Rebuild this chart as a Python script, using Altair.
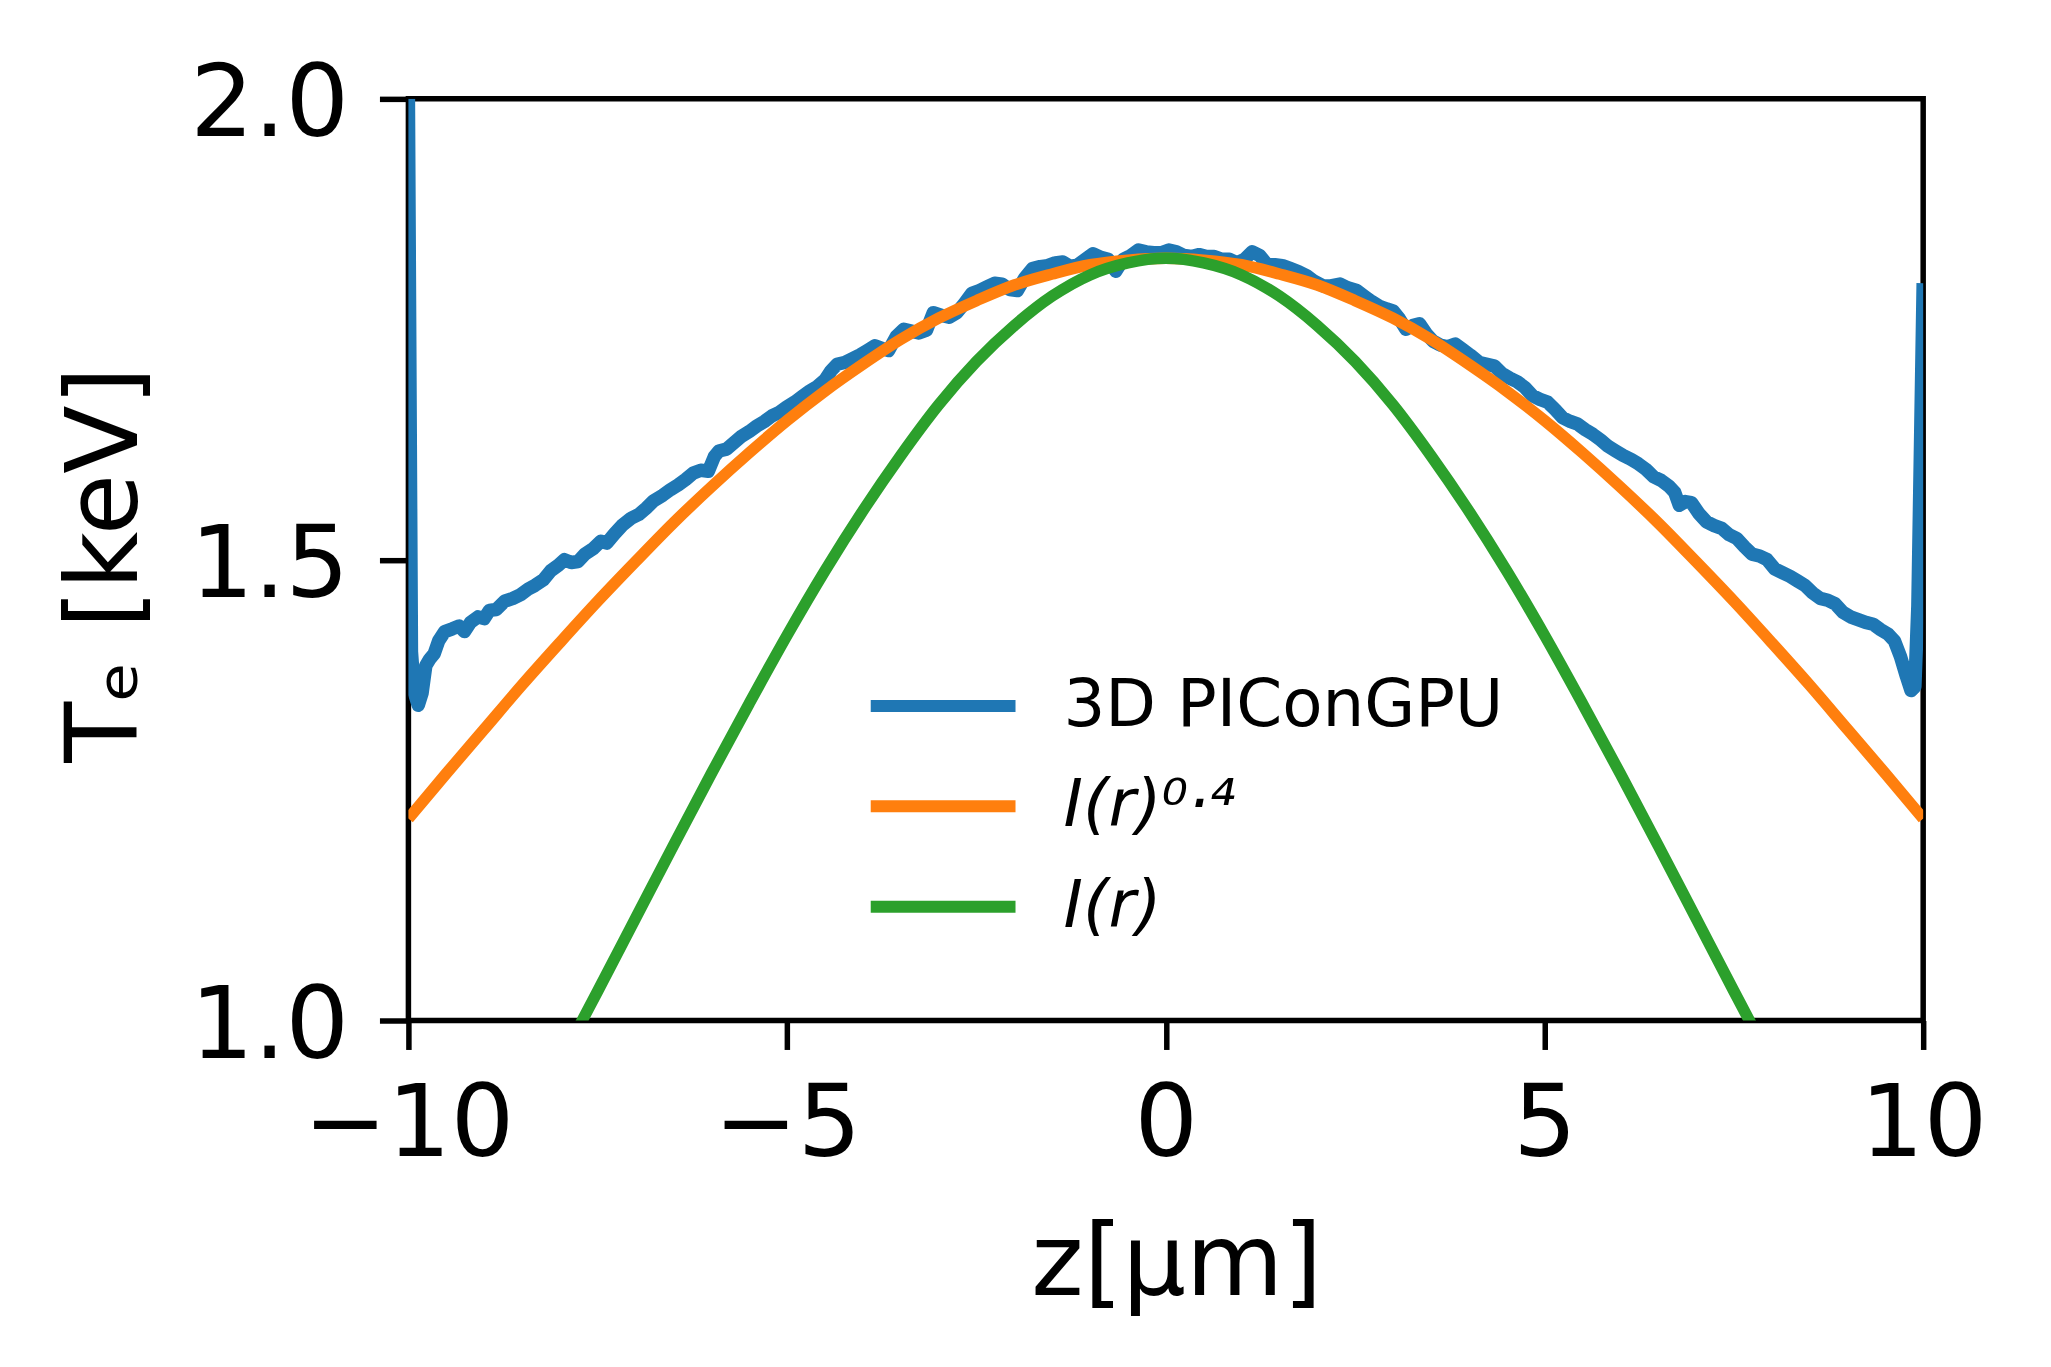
import altair as alt
import pandas as pd

# ---- data ----
Z_PIC = [-10.00, -9.96, -9.92, -9.87, -9.82, -9.77, -9.72, -9.66, -9.60, -9.52,
         -9.42, -9.33, -9.26, -9.18, -9.08, -9.00, -8.93, -8.84, -8.73, -8.62,
         -8.52, -8.42, -8.33, -8.22, -8.12, -8.02, -7.94, -7.85, -7.76, -7.67,
         -7.56, -7.46, -7.38, -7.28, -7.18, -7.06, -6.96, -6.86, -6.76, -6.64,
         -6.54, -6.44, -6.34, -6.24, -6.14, -6.04, -5.96, -5.90, -5.80, -5.70,
         -5.60, -5.50, -5.40, -5.30, -5.20, -5.10, -5.00, -4.90, -4.80, -4.70,
         -4.60, -4.50, -4.42, -4.34, -4.24, -4.14, -4.04, -3.94, -3.84, -3.74,
         -3.66, -3.56, -3.46, -3.36, -3.26, -3.16, -3.07, -2.96, -2.86, -2.76,
         -2.66, -2.56, -2.46, -2.36, -2.26, -2.16, -2.06, -1.96, -1.86, -1.76,
         -1.66, -1.56, -1.46, -1.36, -1.26, -1.16, -1.06, -0.96, -0.86, -0.76,
         -0.66, -0.56, -0.46, -0.36, -0.26, -0.16, -0.06, 0.04, 0.14, 0.24,
         0.34, 0.44, 0.54, 0.64, 0.74, 0.84, 0.94, 1.04, 1.14, 1.24,
         1.34, 1.44, 1.54, 1.64, 1.74, 1.86, 1.96, 2.08, 2.18, 2.30,
         2.40, 2.52, 2.62, 2.72, 2.82, 2.92, 3.00, 3.08, 3.17, 3.26,
         3.35, 3.44, 3.53, 3.62, 3.72, 3.82, 3.92, 4.02, 4.14, 4.24,
         4.34, 4.44, 4.54, 4.64, 4.74, 4.84, 4.94, 5.04, 5.14, 5.24,
         5.34, 5.44, 5.54, 5.64, 5.74, 5.84, 5.94, 6.04, 6.14, 6.24,
         6.34, 6.44, 6.54, 6.64, 6.72, 6.78, 6.86, 6.94, 7.04, 7.14,
         7.24, 7.34, 7.44, 7.54, 7.64, 7.74, 7.84, 7.94, 8.04, 8.14,
         8.24, 8.34, 8.44, 8.54, 8.64, 8.74, 8.84, 8.94, 9.04, 9.14,
         9.24, 9.34, 9.44, 9.54, 9.62, 9.70, 9.78, 9.84, 9.89, 9.93,
         9.97, 10.00]
T_PIC = [2.000, 1.400, 1.355, 1.342, 1.355, 1.385, 1.392, 1.398, 1.412, 1.422,
         1.425, 1.428, 1.422, 1.432, 1.438, 1.436, 1.445, 1.446, 1.455, 1.458,
         1.462, 1.468, 1.472, 1.478, 1.488, 1.494, 1.500, 1.497, 1.498, 1.506,
         1.512, 1.520, 1.518, 1.528, 1.537, 1.545, 1.549, 1.556, 1.564, 1.570,
         1.576, 1.581, 1.587, 1.594, 1.597, 1.596, 1.612, 1.618, 1.620, 1.627,
         1.634, 1.639, 1.645, 1.650, 1.656, 1.660, 1.666, 1.671, 1.677, 1.683,
         1.688, 1.695, 1.705, 1.712, 1.714, 1.718, 1.722, 1.727, 1.732, 1.729,
         1.727, 1.742, 1.750, 1.748, 1.746, 1.749, 1.768, 1.765, 1.763, 1.768,
         1.778, 1.789, 1.792, 1.796, 1.800, 1.799, 1.793, 1.792, 1.806, 1.816,
         1.818, 1.819, 1.822, 1.823, 1.818, 1.820, 1.826, 1.832, 1.828, 1.826,
         1.813, 1.826, 1.830, 1.836, 1.834, 1.833, 1.833, 1.836, 1.834, 1.830,
         1.829, 1.831, 1.829, 1.829, 1.826, 1.826, 1.822, 1.826, 1.834, 1.830,
         1.820, 1.820, 1.819, 1.816, 1.813, 1.808, 1.802, 1.797, 1.797, 1.799,
         1.795, 1.792, 1.786, 1.780, 1.775, 1.772, 1.770, 1.762, 1.750, 1.754,
         1.756, 1.745, 1.737, 1.733, 1.731, 1.734, 1.728, 1.722, 1.714, 1.712,
         1.710, 1.702, 1.697, 1.693, 1.687, 1.678, 1.674, 1.671, 1.663, 1.654,
         1.650, 1.647, 1.641, 1.636, 1.630, 1.623, 1.618, 1.613, 1.609, 1.604,
         1.598, 1.590, 1.586, 1.580, 1.573, 1.559, 1.563, 1.562, 1.550, 1.541,
         1.537, 1.534, 1.527, 1.523, 1.514, 1.506, 1.504, 1.500, 1.490, 1.486,
         1.482, 1.477, 1.472, 1.464, 1.458, 1.456, 1.452, 1.443, 1.438, 1.435,
         1.432, 1.430, 1.424, 1.419, 1.412, 1.395, 1.373, 1.358, 1.362, 1.450,
         1.650, 1.800]

Z_FIT = [-10.0, -9.5, -9.0, -8.5, -8.0, -7.5, -7.0, -6.5, -6.0, -5.5, -5.0,
         -4.5, -4.0, -3.5, -3.0, -2.5, -2.0, -1.5, -1.0, -0.5, 0.0,
         0.5, 1.0, 1.5, 2.0, 2.5, 3.0, 3.5, 4.0, 4.5, 5.0,
         5.5, 6.0, 6.5, 7.0, 7.5, 8.0, 8.5, 9.0, 9.5, 10.0]
T_POW04 = [1.219, 1.268, 1.316, 1.364, 1.410, 1.455, 1.498, 1.540, 1.579, 1.616, 1.651,
           1.683, 1.712, 1.739, 1.762, 1.781, 1.798, 1.810, 1.820, 1.825, 1.827,
           1.825, 1.820, 1.810, 1.798, 1.781, 1.762, 1.739, 1.712, 1.683, 1.651,
           1.616, 1.579, 1.540, 1.498, 1.455, 1.410, 1.364, 1.316, 1.268, 1.219]

Z_INT = [-8.0, -7.5, -7.0, -6.5, -6.0, -5.5, -5.0, -4.5, -4.0, -3.5, -3.0,
         -2.5, -2.0, -1.5, -1.0, -0.5, 0.0, 0.5, 1.0, 1.5, 2.0,
         2.5, 3.0, 3.5, 4.0, 4.5, 5.0, 5.5, 6.0, 6.5, 7.0, 7.5, 8.0]
T_INT = [0.954, 1.032, 1.111, 1.190, 1.268, 1.344, 1.418, 1.488, 1.553, 1.613, 1.668,
         1.715, 1.754, 1.786, 1.809, 1.822, 1.827, 1.822, 1.809, 1.786, 1.754,
         1.715, 1.668, 1.613, 1.553, 1.488, 1.418, 1.344, 1.268, 1.190, 1.111, 1.032, 0.954]

SERIES = ["3D PIConGPU", "I(r)⁰·⁴", "I(r)"]
COLORS = ["#1f77b4", "#ff7f0e", "#2ca02c"]
X_TICKS = [-10, -5, 0, 5, 10]
Y_TICKS = [1.0, 1.5, 2.0]

FONT = "DejaVu Sans"

df_pic = pd.DataFrame({"z": Z_PIC, "T": T_PIC, "series": SERIES[0]})
df_pow = pd.DataFrame({"z": Z_FIT, "T": T_POW04, "series": SERIES[1]})
df_int = pd.DataFrame({"z": Z_INT, "T": T_INT, "series": SERIES[2]})

x_enc = alt.X(
    "z:Q",
    scale=alt.Scale(domain=[-10, 10], nice=False, zero=False),
    axis=alt.Axis(
        values=X_TICKS, format="d", title="z[μm]",
        titleX=769, titleY=274, titleBaseline="alphabetic", titleAlign="center",
        labelPadding=27, labelFlush=False, labelOverlap=False, labelLimit=1000,
    ),
)
y_enc = alt.Y(
    "T:Q",
    scale=alt.Scale(domain=[1.0, 2.0], nice=False, zero=False),
    axis=alt.Axis(
        values=Y_TICKS, format=".1f", title="Tₑ [keV]",
        titleX=-272, titleY=466, titleAngle=270, titleBaseline="alphabetic",
        titleAlign="center", labelPadding=31, labelOffset=7,
        labelFlush=False, labelOverlap=False, labelLimit=1000,
    ),
)
color_enc = alt.Color(
    "series:N",
    scale=alt.Scale(domain=SERIES, range=COLORS),
    legend=alt.Legend(
        title=None, orient="none", legendX=457, legendY=573,
        symbolType="stroke", symbolSize=21025, symbolStrokeWidth=12,
        labelFontSize=66, labelFont=FONT, labelColor="black", labelOffset=42,
        labelLimit=2000, clipHeight=70, rowPadding=30.5, padding=0,
        labelFontStyle={"expr": "datum.label == '3D PIConGPU' ? 'normal' : 'italic'"},
    ),
)

def layer(df, width, interp):
    return alt.Chart(df).mark_line(
        strokeWidth=width, clip=True, strokeCap="butt", strokeJoin="round",
        interpolate=interp,
    ).encode(x=x_enc, y=y_enc, color=color_enc)

chart = alt.layer(
    layer(df_pic, 13.5, "linear"),
    layer(df_pow, 11.5, "monotone"),
    layer(df_int, 11.5, "monotone"),
).properties(
    width=1517, height=923,
    padding={"left": 401, "top": 90, "right": 120, "bottom": 340},
    autosize=alt.AutoSizeParams(type="none"),
).configure(
    font=FONT, background="white",
).configure_view(
    stroke="black", strokeWidth=5.5,
).configure_axis(
    domain=False, grid=False, ticks=True, tickSize=29, tickWidth=5.5, tickColor="black",
    labelFont=FONT, labelFontSize=100, labelColor="black",
    titleFont=FONT, titleFontSize=100, titleFontWeight="normal", titleColor="black",
)

chart.save("out.html", embed_options={"renderer": "svg", "actions": False})
